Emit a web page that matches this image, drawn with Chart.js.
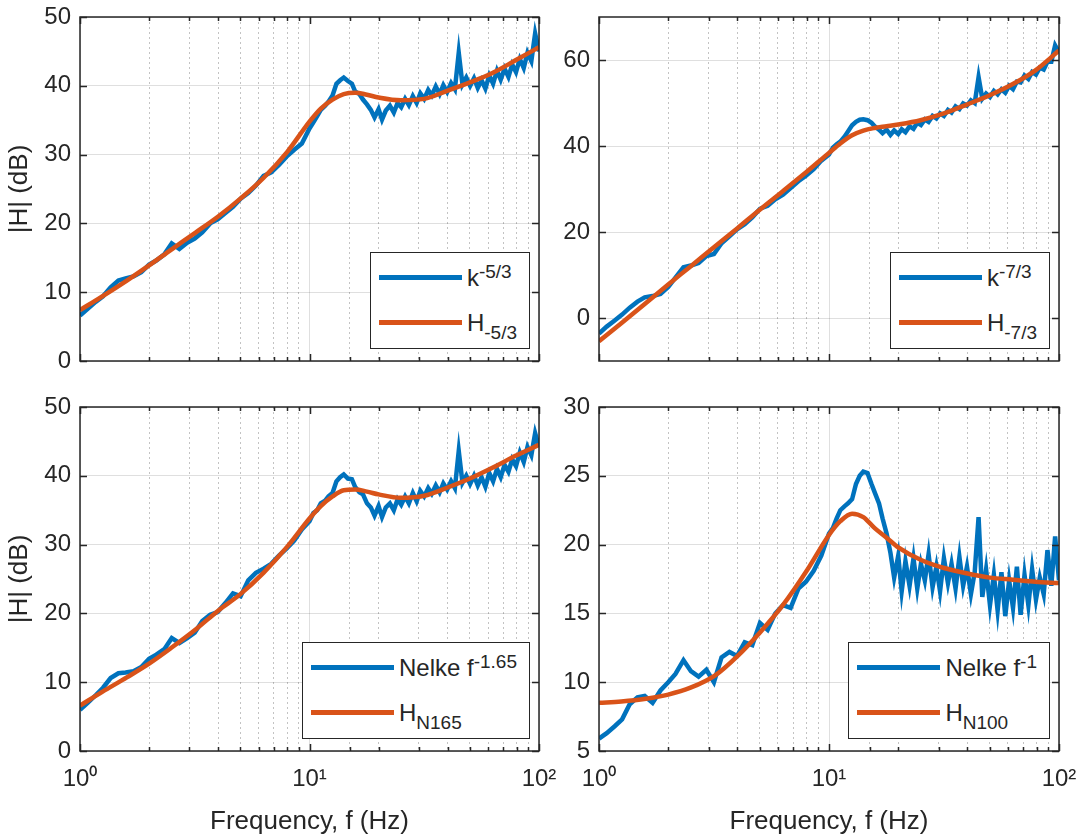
<!DOCTYPE html>
<html>
<head>
<meta charset="utf-8">
<script src="https://cdn.jsdelivr.net/npm/chart.js@4.4.1/dist/chart.umd.min.js"></script>
<style>
  html, body { margin: 0; padding: 0; background: #ffffff; }
  #wrap { position: relative; width: 1084px; height: 840px; overflow: hidden;
          font-family: 'Liberation Sans', Arial, Helvetica, sans-serif; color: #262626; }
  #wrap canvas { position: absolute; left: 0; top: 0; }
  .lg { position: absolute; background: #ffffff; border: 1.5px solid #262626; box-sizing: border-box;
        padding: 2px 12px 3px 8px; }
  .lg .row { display: flex; align-items: center; height: 45px; }
  .lg .sw { width: 83px; height: 5px; margin-right: 5px; flex: none; }
  .lg .tx { font-size: 24px; line-height: 24px; white-space: nowrap; }
  .lg sup { font-size: 19px; line-height: 0; vertical-align: 0.42em; }
  .lg sub { font-size: 19px; line-height: 0; vertical-align: -0.42em; }
</style>
</head>
<body>
<div id="wrap"></div>
<script>
// Measured spectra share one frequency grid (Hz)
const freq = [
  1.00, 1.08, 1.17, 1.26, 1.36, 1.47, 1.58, 1.71, 1.85, 2.00,
  2.15, 2.33, 2.51, 2.71, 2.93, 3.16, 3.41, 3.69, 3.98, 4.30,
  4.64, 5.01, 5.41, 5.84, 6.31, 6.81, 7.36, 7.94, 8.58, 9.26,
  10.0, 10.4, 10.8, 11.2, 11.7, 12.1, 12.6, 13.1, 13.6, 14.1,
  14.7, 15.3, 15.8, 16.5, 17.1, 17.8, 18.5, 19.2, 20.0, 20.7,
  21.5, 22.4, 23.3, 24.2, 25.1, 26.1, 27.1, 28.2, 29.3, 30.4,
  31.6, 32.9, 34.1, 35.5, 36.9, 38.3, 39.8, 41.4, 43.0, 44.7,
  46.4, 48.2, 50.1, 52.1, 54.1, 56.2, 58.4, 60.7, 63.1, 65.6,
  68.1, 70.8, 73.6, 76.4, 79.4, 82.5, 85.8, 89.1, 92.6, 96.2,
  100
];

// Fitted transfer functions are evaluated on a coarser grid (Hz)
const fitFreq = [1, 1.25, 1.6, 2, 2.5, 3.2, 4, 5, 6.3, 8, 10, 11.2, 12.6, 14.1, 15.8, 17.8, 20, 25, 31.6, 40, 50, 63, 79, 100];

// |H| in dB, k^-5/3 spectrum
const kolmo53 = [
  6.6, 7.6, 8.6, 9.4, 10.7, 11.7, 12.0, 12.3, 12.9, 14.0,
  14.6, 15.5, 17.1, 16.3, 17.2, 17.8, 18.7, 20.0, 20.6, 21.5,
  22.4, 23.6, 24.4, 25.5, 26.9, 27.4, 28.5, 29.7, 30.7, 31.6,
  33.8, 34.7, 35.6, 36.5, 37.1, 37.7, 38.6, 40.3, 40.8, 41.2,
  40.7, 40.3, 39.2, 38.8, 38.0, 37.3, 36.5, 35.4, 36.6, 35.1,
  36.4, 37.1, 36.1, 37.5, 36.9, 38.1, 37.2, 38.5, 37.5, 38.9,
  38.1, 39.4, 38.6, 39.9, 38.8, 40.1, 39.1, 40.4, 39.5, 44.8,
  40.2, 41.2, 40.0, 41.1, 39.7, 40.8, 39.6, 41.5, 40.3, 42.2,
  40.9, 42.5, 41.3, 43.1, 42.0, 43.9, 42.6, 44.8, 43.6, 47.6,
  45.0
];
const fit53 = [7.4, 9.4, 11.7, 13.9, 16.2, 18.7, 21.0, 23.6, 26.6, 30.4, 34.8, 36.7, 38.0, 38.8, 39.0, 38.7, 38.3, 37.9, 38.1, 39.3, 40.5, 41.9, 43.7, 45.6];

// |H| in dB, k^-7/3 spectrum
const kolmo73 = [
  -3.6, -2.0, -0.6, 0.8, 2.4, 3.8, 4.8, 5.1, 5.6, 7.2,
  9.4, 11.8, 12.2, 12.8, 14.4, 14.9, 17.4, 19.0, 20.6, 21.8,
  23.4, 25.4, 26.1, 27.6, 28.7, 30.2, 31.8, 33.1, 34.6, 36.6,
  38.0, 39.6, 40.4, 41.0, 42.2, 43.4, 44.8, 45.6, 46.1, 46.2,
  46.0, 45.4, 44.6, 43.8, 43.0, 43.8, 42.6, 43.6, 42.8, 43.9,
  43.2, 44.6, 44.0, 45.4, 44.9, 46.2, 45.6, 47.0, 46.4, 47.6,
  47.0, 48.4, 47.8, 49.2, 48.6, 49.9, 49.4, 50.6, 50.0, 56.0,
  51.0, 52.2, 51.4, 52.8, 52.0, 53.2, 52.4, 54.0, 53.2, 55.0,
  54.8, 56.4, 55.6, 57.2, 56.6, 58.2, 57.8, 59.6, 59.6, 63.4,
  61.8
];
const fit73 = [-5.4, -1.2, 3.5, 7.8, 12.0, 16.7, 20.9, 25.2, 29.5, 34.0, 38.4, 40.6, 42.5, 43.6, 44.2, 44.6, 45.0, 46.0, 47.6, 49.7, 51.8, 54.4, 57.6, 62.2];

// |H| in dB, Nelke f^-1.65 spectrum
const nelke165 = [
  6.0, 7.0, 8.1, 9.2, 10.6, 11.3, 11.4, 11.6, 12.2, 13.4,
  14.0, 14.8, 16.4, 15.7, 16.4, 17.2, 18.9, 19.8, 20.2, 21.5,
  22.9, 22.5, 24.8, 25.9, 26.5, 27.2, 28.4, 29.4, 30.6, 32.2,
  33.4, 34.6, 35.0, 36.0, 36.4, 37.0, 37.5, 39.2, 39.8, 40.2,
  39.6, 39.5, 38.4, 37.6, 37.3, 36.0, 35.4, 34.2, 35.6, 34.0,
  35.4, 36.0, 35.0, 36.6, 35.8, 37.0, 36.0, 37.5, 36.3, 37.8,
  37.0, 38.2, 37.4, 38.6, 37.6, 38.9, 38.0, 39.2, 38.2, 43.6,
  39.0, 40.0, 38.8, 40.0, 38.6, 39.8, 38.4, 40.4, 39.2, 41.0,
  39.8, 41.6, 40.6, 42.4, 41.4, 43.4, 42.0, 44.2, 43.0, 46.2,
  44.2
];
const fitN165 = [6.6, 8.6, 10.7, 12.7, 15.0, 17.7, 20.4, 22.8, 25.9, 29.7, 33.8, 35.6, 37.0, 37.9, 38.0, 37.7, 37.3, 36.8, 37.1, 38.3, 39.6, 41.2, 42.9, 44.5];

// |H| in dB, Nelke f^-1 spectrum
const nelke100 = [
  5.9, 6.3, 6.8, 7.3, 8.4, 8.9, 9.0, 8.5, 9.4, 10.0,
  10.6, 11.6, 10.8, 10.4, 10.9, 10.0, 11.8, 12.2, 11.9, 12.9,
  12.7, 14.3, 13.8, 15.0, 15.6, 15.4, 16.8, 17.3, 18.1, 19.2,
  20.8, 21.2, 21.9, 22.5, 22.8, 23.0, 23.3, 24.4, 25.0, 25.3,
  25.2, 24.4, 23.8, 23.0, 21.9, 20.8, 19.4, 17.6, 19.2, 16.6,
  18.8, 17.0, 19.0, 16.8, 18.6, 17.4, 19.3, 16.9, 18.4, 16.6,
  19.0, 17.2, 18.6, 16.8, 19.1, 17.0, 18.4, 16.4, 18.0, 22.0,
  16.2, 18.2, 15.6, 17.8, 15.2, 18.0, 14.8, 17.4, 15.4, 18.4,
  14.9, 17.8, 15.6, 18.2, 16.0, 17.6, 16.4, 19.6, 17.0, 20.6,
  17.4
];
const fitN100 = [8.5, 8.6, 8.8, 9.1, 9.6, 10.5, 11.9, 13.6, 15.6, 18.1, 20.7, 21.7, 22.25, 22.0, 21.2, 20.5, 19.8, 18.9, 18.3, 17.9, 17.6, 17.45, 17.3, 17.2];

// Axis ticks and limits
const xTickValues = [1, 10, 100];
const xTickLabels = ['10\u2070', '10\u00B9', '10\u00B2'];
const yLimitsTL = [0, 50];
const yLimitsTR = [-10, 70];
const yLimitsBL = [0, 50];
const yLimitsBR = [5, 30];
const yTicksTL = [0, 10, 20, 30, 40, 50];
const yTicksTR = [0, 20, 40, 60];
const yTicksBL = [0, 10, 20, 30, 40, 50];
const yTicksBR = [5, 10, 15, 20, 25, 30];

// Legend entries (measured, fitted)
const namesTL = ['k<sup>-5/3</sup>', 'H<sub>-5/3</sub>'];
const namesTR = ['k<sup>-7/3</sup>', 'H<sub>-7/3</sub>'];
const namesBL = ['Nelke f<sup>-1.65</sup>', 'H<sub>N165</sub>'];
const namesBR = ['Nelke f<sup>-1</sup>', 'H<sub>N100</sub>'];

const BLUE = '#0072BD';
const ORANGE = '#D95319';
const TXT = '#262626';
const FONT = "'Liberation Sans', Arial, Helvetica, sans-serif";
const GRID_MAJOR = 'rgba(38,38,38,0.15)';
const GRID_MINOR = 'rgba(38,38,38,0.28)';
const W = 1084, H = 840;

function isMajor(tick) {
  return !!tick && xTickValues.some(m => Math.abs(tick.value / m - 1) < 1e-6);
}

// Closed axes box with inward tick marks, drawn over the data
const axesBox = {
  id: 'axesBox',
  afterDatasetsDraw(chart) {
    const { ctx, chartArea: a, scales } = chart;
    ctx.save();
    ctx.strokeStyle = TXT;
    ctx.lineWidth = 1.5;
    ctx.beginPath();
    scales.x.ticks.forEach(t => {
      const px = Math.round(scales.x.getPixelForValue(t.value)) + 0.5;
      const len = isMajor(t) ? 7 : 4;
      ctx.moveTo(px, a.bottom); ctx.lineTo(px, a.bottom - len);
      ctx.moveTo(px, a.top); ctx.lineTo(px, a.top + len);
    });
    scales.y.ticks.forEach(t => {
      const py = Math.round(scales.y.getPixelForValue(t.value)) + 0.5;
      ctx.moveTo(a.left, py); ctx.lineTo(a.left + 7, py);
      ctx.moveTo(a.right, py); ctx.lineTo(a.right - 7, py);
    });
    ctx.stroke();
    ctx.strokeRect(a.left, a.top, a.right - a.left, a.bottom - a.top);
    ctx.restore();
  }
};

const panels = [
  { area: { l: 80, t: 17, r: 539, b: 361 }, meas: kolmo53, fit: fit53, lim: yLimitsTL, yticks: yTicksTL, names: namesTL, xLabels: false, yTitle: true },
  { area: { l: 599, t: 17, r: 1059, b: 361 }, meas: kolmo73, fit: fit73, lim: yLimitsTR, yticks: yTicksTR, names: namesTR, xLabels: false, yTitle: false },
  { area: { l: 80, t: 407, r: 539, b: 751 }, meas: nelke165, fit: fitN165, lim: yLimitsBL, yticks: yTicksBL, names: namesBL, xLabels: true, yTitle: true },
  { area: { l: 599, t: 407, r: 1059, b: 751 }, meas: nelke100, fit: fitN100, lim: yLimitsBR, yticks: yTicksBR, names: namesBR, xLabels: true, yTitle: false }
];

const wrap = document.getElementById('wrap');
const plain = s => s.replace(/<[^>]+>/g, '');

function buildLegend(chart, names) {
  const a = chart.chartArea;
  const box = document.createElement('div');
  box.className = 'lg';
  box.style.right = (W - (a.right - 9)) + 'px';
  box.style.bottom = (H - (a.bottom - 12)) + 'px';
  [BLUE, ORANGE].forEach((c, i) => {
    const row = document.createElement('div');
    row.className = 'row';
    const sw = document.createElement('div');
    sw.className = 'sw';
    sw.style.background = c;
    const tx = document.createElement('div');
    tx.className = 'tx';
    tx.innerHTML = names[i];
    row.appendChild(sw);
    row.appendChild(tx);
    box.appendChild(row);
  });
  wrap.appendChild(box);
}

panels.forEach(p => {
  const canvas = document.createElement('canvas');
  canvas.width = W; canvas.height = H;
  wrap.appendChild(canvas);
  const Wy = p.yTitle ? 80 : 60;
  const Hx = p.xLabels ? 89 : 10;
  const chart = new Chart(canvas, {
    type: 'line',
    data: {
      datasets: [
        { label: plain(p.names[1]), data: fitFreq.map((f, i) => ({ x: f, y: p.fit[i] })),
          borderColor: ORANGE, borderWidth: 4.5, pointRadius: 0, cubicInterpolationMode: 'monotone', order: 0 },
        { label: plain(p.names[0]), data: freq.map((f, i) => ({ x: f, y: p.meas[i] })),
          borderColor: BLUE, borderWidth: 4.5, pointRadius: 0, tension: 0, order: 1 }
      ]
    },
    options: {
      responsive: false, animation: false, devicePixelRatio: 1,
      layout: { padding: { left: p.area.l - Wy, top: p.area.t, right: W - p.area.r, bottom: H - p.area.b - Hx } },
      plugins: { legend: { display: false }, tooltip: { enabled: false } },
      scales: {
        x: {
          type: 'logarithmic', min: 1, max: 100, position: 'bottom',
          afterFit(s) { s.height = Hx; s.paddingLeft = 0; s.paddingRight = 0; },
          grid: { color: c => isMajor(c.tick) ? GRID_MAJOR : GRID_MINOR, lineWidth: 1, drawTicks: false },
          border: { display: false, dash: c => (c.tick && !isMajor(c.tick)) ? [2, 3] : [] },
          ticks: {
            display: p.xLabels, autoSkip: false, maxRotation: 0, padding: 14, color: TXT,
            font: { size: 24, family: FONT },
            callback: v => {
              const k = xTickValues.findIndex(m => Math.abs(v / m - 1) < 1e-6);
              return k < 0 ? '' : xTickLabels[k];
            }
          },
          title: { display: p.xLabels, text: 'Frequency, f (Hz)', color: TXT, font: { size: 26, family: FONT }, padding: { top: 0, bottom: 3 } }
        },
        y: {
          type: 'linear', min: p.lim[0], max: p.lim[1],
          afterFit(s) { s.width = Wy; s.paddingTop = 0; s.paddingBottom = 0; },
          afterBuildTicks(s) { s.ticks = p.yticks.map(v => ({ value: v })); },
          grid: { color: GRID_MAJOR, lineWidth: 1, drawTicks: false },
          border: { display: false },
          ticks: { padding: 9, color: TXT, font: { size: 24, family: FONT } },
          title: { display: p.yTitle, text: '|H| (dB)', color: TXT, font: { size: 26, family: FONT }, padding: { top: 4, bottom: 0 } }
        }
      }
    },
    plugins: [axesBox]
  });
  buildLegend(chart, p.names);
});
</script>
</body>
</html>
